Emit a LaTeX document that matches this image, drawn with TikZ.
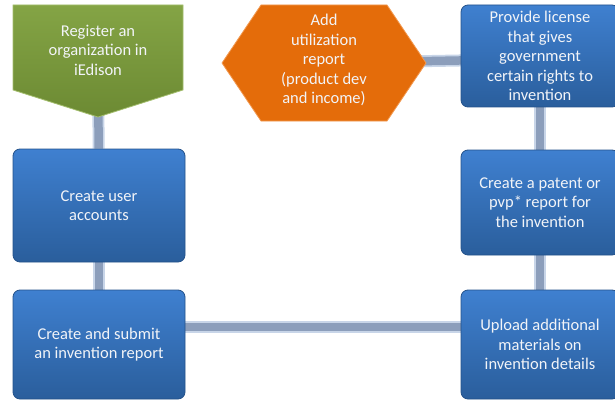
\documentclass[tikz,border=0pt]{standalone}
\usepackage{fontspec}
\setmainfont{Carlito}
\usetikzlibrary{backgrounds}
\definecolor{bluetop}{HTML}{3F80D0}
\definecolor{bluebot}{HTML}{2A5E9C}
\definecolor{blueedge}{HTML}{24528A}
\definecolor{greentop}{HTML}{84A445}
\definecolor{greenbot}{HTML}{6C8A33}
\definecolor{greenedge}{HTML}{A4BE6E}
\definecolor{orangefill}{HTML}{E46C0A}
\definecolor{orangeedge}{HTML}{F29A52}
\definecolor{barcol}{HTML}{8C9EBB}
\definecolor{barlight}{HTML}{C8D5E8}
\definecolor{txtcol}{HTML}{F2F4F8}
\begin{document}
\begin{tikzpicture}[x=1pt,y=-1pt,
  lbl/.style={text=txtcol, font=\fontsize{16.5}{19.5}\selectfont, align=center, inner sep=0pt},
  bluebox/.style={lbl, rectangle, rounded corners=7pt, top color=bluetop, bottom color=bluebot, draw=blueedge, line width=0.8pt},
  greenshape/.style={top color=greentop, bottom color=greenbot, draw=greenedge, line width=0.8pt},
  orangeshape/.style={fill=orangefill, draw=orangeedge, line width=0.8pt},
  conn/.style={line width=12pt, draw=barlight, postaction={draw=barcol, line width=8.5pt}},
]
\clip (0,0) rectangle (615,401);

% shapes
\path[greenshape] (13,5) -- (183,5) -- (183,90) -- (98,117) -- (13,90) -- cycle;
\path[orangeshape] (222,63) -- (261,5) -- (387,5) -- (426,63) -- (387,121) -- (261,121) -- cycle;

% nodes
\node[lbl] (reg) at (98,50) {Register an\\organization in\\iEdison};
\node[lbl] (util) at (324,60) {Add\\utilization\\report\\(product dev\\and income)};
\node[bluebox, minimum width=158pt, minimum height=102pt] (license) at (540,56) {Provide license\\that gives\\government\\certain rights to\\invention};
\node[bluebox, minimum width=158pt, minimum height=105pt] (patent) at (540,202.5) {Create a patent or\\pvp* report for\\the invention};
\node[bluebox, minimum width=158pt, minimum height=109pt] (upload) at (540,344.5) {Upload additional\\materials on\\invention details};
\node[bluebox, minimum width=172pt, minimum height=113pt] (acct) at (99,205.5) {Create user\\accounts};
\node[bluebox, minimum width=172pt, minimum height=109pt] (submit) at (99,344.5) {Create and submit\\an invention report};

% connectors
\begin{scope}[on background layer]
\draw[conn] (reg) -- (acct);
\draw[conn] (acct) -- (submit);
\draw[conn] ([yshift=17.5pt]submit.center) -- ([yshift=17.5pt]upload.center);
\draw[conn] (upload) -- (patent);
\draw[conn] (patent) -- (license);
\draw[conn] ([yshift=-3pt]util.center) -- ([yshift=-3pt]license.center);
\end{scope}
\end{tikzpicture}
\end{document}
